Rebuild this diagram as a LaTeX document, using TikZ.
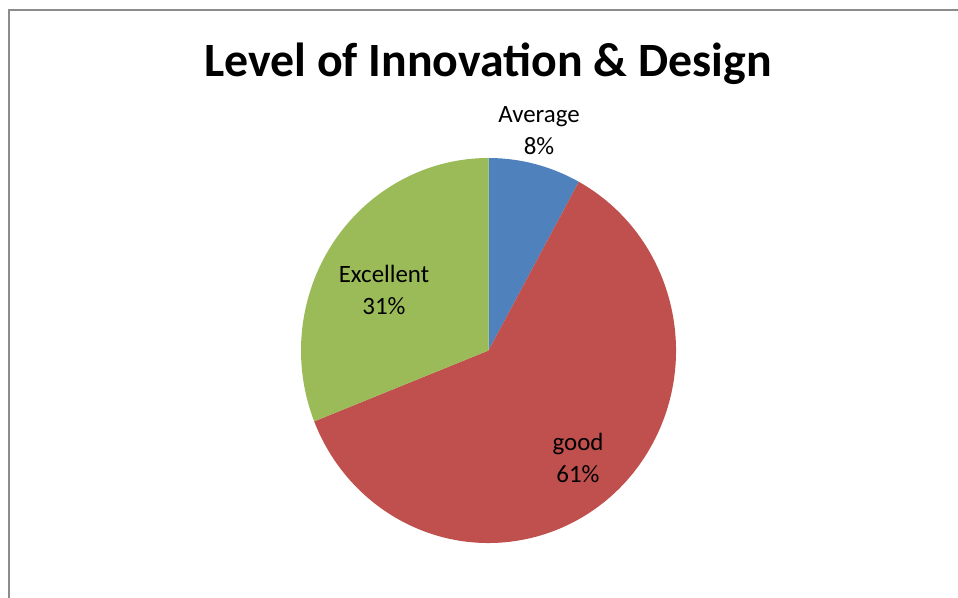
\documentclass[tikz,border=0pt]{standalone}
\usepackage{fontspec}
\setmainfont{Carlito}
\definecolor{pblue}{HTML}{4F81BD}
\definecolor{pred}{HTML}{C0504D}
\definecolor{pgreen}{HTML}{9BBB59}
\definecolor{frame}{HTML}{8C8C8C}
\begin{document}
\begin{tikzpicture}[x=1bp,y=1bp,
  lbl/.style={font=\fontsize{25}{32}\selectfont, align=center, text=black, inner sep=0pt},
  ttl/.style={font=\fontsize{48}{54}\selectfont\bfseries, inner sep=0pt}]
\useasboundingbox (0,0) rectangle (958,598);
\fill[white] (0,0) rectangle (958,598);
\draw[frame, line width=2.2bp] (9,-2) -- (9,588) -- (960,588);
\coordinate (c) at (488.5,247.5);
\begin{scope}[shift={(c)}]
\fill[pblue] (0,0) -- (90:187.5 and 192.5) arc[start angle=90, end angle=61.2, x radius=187.5, y radius=192.5] -- cycle;
\fill[pred] (0,0) -- (61.2:187.5 and 192.5) arc[start angle=61.2, end angle=-158.4, x radius=187.5, y radius=192.5] -- cycle;
\fill[pgreen] (0,0) -- (-158.4:187.5 and 192.5) arc[start angle=-158.4, end angle=-270, x radius=187.5, y radius=192.5] -- cycle;
\end{scope}
\node[ttl] (title) at (488,534) {Level of Innovation \& Design};
\node[lbl] (avg) at (539,467) {Average\\8\%};
\node[lbl] (exc) at (384,308) {Excellent\\31\%};
\node[lbl] (good) at (578,140) {good\\61\%};
\end{tikzpicture}
\end{document}
